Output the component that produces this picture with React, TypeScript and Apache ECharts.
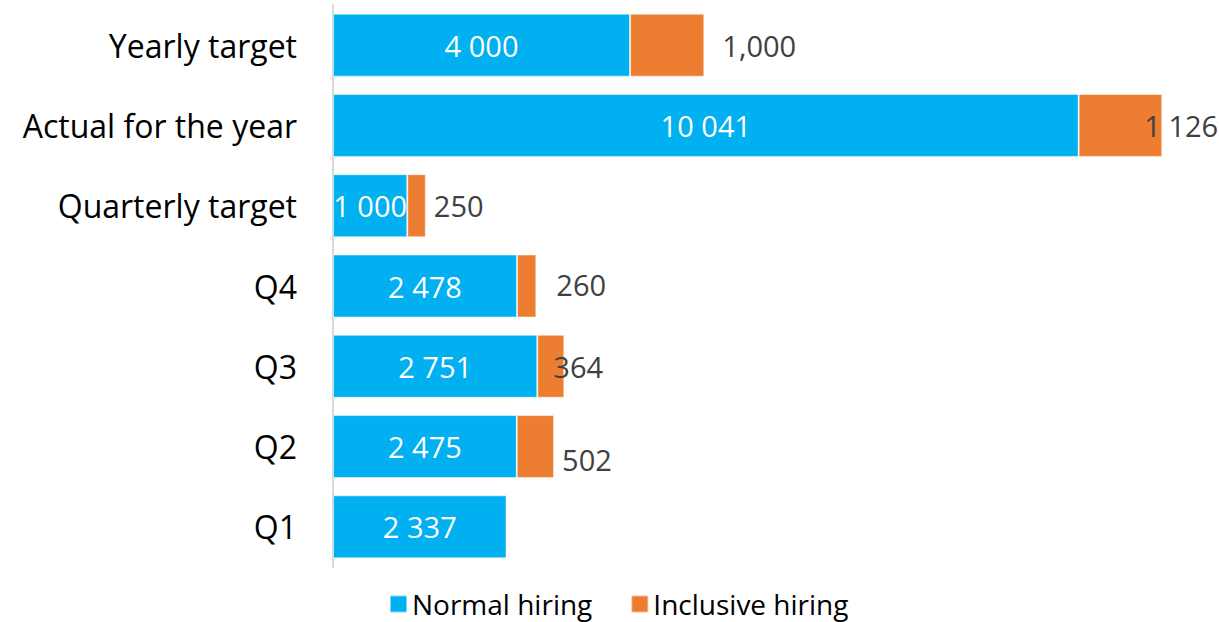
import React, { useEffect, useRef } from "react";
import * as echarts from "echarts";

const categories = ["Yearly target", "Actual for the year", "Quarterly target", "Q4", "Q3", "Q2", "Q1"];
const normalHiring = [4000, 10041, 1000, 2478, 2751, 2475, 2337];
const inclusiveHiring: (number | null)[] = [1000, 1126, 250, 260, 364, 502, null];
const seriesNames = ["Normal hiring", "Inclusive hiring"];

// label placement tweaks (layout only)
const inclusiveLabelOffsets = [[13, 0], [-23, 0], [3, 0], [15, -2], [-16, 0], [3, 13], [0, 0]];

const spaceFmt = (v: number) => String(Math.round(v)).replace(/\B(?=(\d{3})+(?!\d))/g, " ");
const commaFmt = (v: number) => String(Math.round(v)).replace(/\B(?=(\d{3})+(?!\d))/g, ",");

const FONT = "Open Sans";

export default function App() {
  const ref = useRef<HTMLDivElement>(null);
  useEffect(() => {
    document.body.style.margin = "0";
    if (!ref.current) return;
    const chart = echarts.init(ref.current, null, { renderer: "svg" });
    chart.setOption({
      animation: false,
      textStyle: { fontFamily: FONT },
      grid: { left: 333, top: 5, bottom: 55, right: 32 },
      legend: {
        data: seriesNames,
        left: 384,
        top: 585,
        itemWidth: 17,
        itemHeight: 17,
        itemGap: 38,
        icon: "rect",
        textStyle: { fontFamily: FONT, fontSize: 28, color: "#000" },
      },
      xAxis: {
        type: "value",
        min: 0,
        max: 11500,
        show: false,
        splitLine: { show: false },
      },
      yAxis: {
        type: "category",
        data: categories,
        inverse: true,
        axisLine: { show: true, lineStyle: { color: "#d9d9d9", width: 2 } },
        axisTick: { show: false },
        axisLabel: { fontFamily: FONT, fontSize: 32, color: "#000", margin: 36 },
      },
      series: [
        {
          name: seriesNames[0],
          type: "bar",
          stack: "total",
          barWidth: 63,
          itemStyle: { color: "#00B0F0", borderColor: "rgba(255,255,255,0.5)", borderWidth: 1 },
          label: {
            show: true,
            position: "inside",
            color: "#fff",
            fontFamily: FONT,
            fontSize: 29,
            formatter: (p: any) => spaceFmt(p.value),
          },
          data: normalHiring,
        },
        {
          name: seriesNames[1],
          type: "bar",
          stack: "total",
          barWidth: 63,
          itemStyle: { color: "#ED7D31", borderColor: "rgba(255,255,255,0.5)", borderWidth: 1 },
          label: {
            show: true,
            position: "right",
            color: "#404040",
            fontFamily: FONT,
            fontSize: 29,
          },
          data: inclusiveHiring.map((v, i) =>
            v == null
              ? null
              : {
                  value: v,
                  label: {
                    offset: inclusiveLabelOffsets[i],
                    formatter: i === 0 ? commaFmt(v) : spaceFmt(v),
                  },
                }
          ),
        },
      ],
    });
    return () => chart.dispose();
  }, []);
  return <div ref={ref} style={{ width: 1219, height: 622 }} />;
}
